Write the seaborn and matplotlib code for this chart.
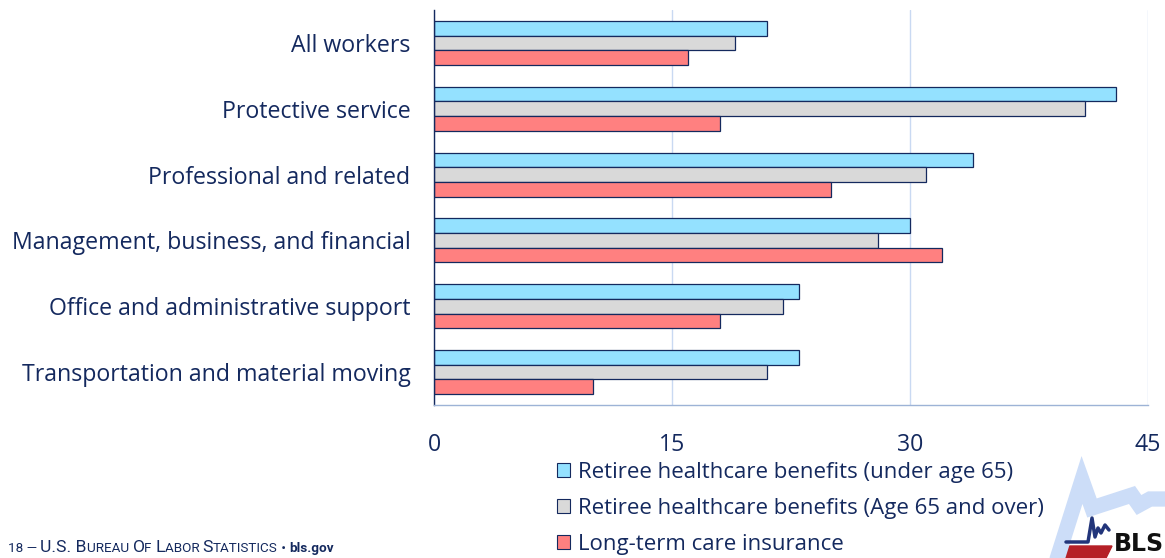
import numpy as np
import pandas as pd
import matplotlib
matplotlib.use("Agg")
import matplotlib.pyplot as plt
import seaborn as sns

# ---- data ----
occupations = [
    "All workers",
    "Protective service",
    "Professional and related",
    "Management, business, and financial",
    "Office and administrative support",
    "Transportation and material moving",
]
under_65 = [21, 43, 34, 30, 23, 23]
age_65_over = [19, 41, 31, 28, 22, 21]
long_term_care = [16, 18, 25, 32, 18, 10]

series_names = [
    "Retiree healthcare benefits (under age 65)",
    "Retiree healthcare benefits (Age 65 and over)",
    "Long-term care insurance",
]
x_ticks = [0, 15, 30, 45]

NAVY = "#14295E"
palette = ["#94E1FF", "#D9D9D9", "#FF8080"]

df = pd.DataFrame({
    "occupation": occupations * 3,
    "series": np.repeat(series_names, len(occupations)),
    "value": under_65 + age_65_over + long_term_care,
})

sns.set_style("white")
plt.rcParams["font.family"] = ["Open Sans", "DejaVu Sans"]

fig = plt.figure(figsize=(11.65, 5.58), dpi=100)
ax = fig.add_axes([434 / 1165, 1 - 405 / 558, (1148 - 434) / 1165, (405 - 10) / 558])

sns.barplot(data=df, y="occupation", x="value", hue="series", order=occupations,
            hue_order=series_names, palette=palette, orient="h", width=0.67, gap=0,
            edgecolor=NAVY, linewidth=0.9, saturation=1, legend=False, ax=ax)

ax.set_xlim(0, 45)
ax.set_ylim(5.5, -0.5)
ax.set_xticks(x_ticks)
ax.set_xticklabels([str(t) for t in x_ticks])
ax.xaxis.grid(True, color="#C9D9F2", linewidth=1)
ax.set_axisbelow(True)
ax.set_xlabel("")
ax.set_ylabel("")
for s in ["top", "right"]:
    ax.spines[s].set_visible(False)
ax.spines["left"].set_color(NAVY)
ax.spines["left"].set_linewidth(1)
ax.spines["bottom"].set_color("#9DB3D6")
ax.spines["bottom"].set_linewidth(1)
ax.tick_params(axis="both", length=0, colors=NAVY, labelsize=16.7)
ax.tick_params(axis="x", pad=20)
ax.tick_params(axis="y", pad=17)

handles = [plt.Rectangle((0, 0), 1, 1, facecolor=c, edgecolor=NAVY, linewidth=0.8) for c in palette]
leg = fig.legend(handles, series_names, loc="upper left",
                 bbox_to_anchor=(557 / 1165, 1 - 462 / 558), frameon=False,
                 fontsize=16, labelspacing=0.68, handlelength=0.6, handleheight=0.6,
                 handletextpad=0.35, borderpad=0, borderaxespad=0)
for t in leg.get_texts():
    t.set_color(NAVY)

# ---- footer, in small caps ----
pieces = [("18 — ", 9.7, "normal"), ("U.S. B", 12.6, "normal"), ("UREAU ", 9.7, "normal"),
          ("O", 12.6, "normal"), ("F ", 9.7, "normal"), ("L", 12.6, "normal"),
          ("ABOR ", 9.7, "normal"), ("S", 12.6, "normal"), ("TATISTICS", 9.7, "normal"),
          (" • ", 9.7, "normal"), ("bls.gov", 9.7, "bold")]
fig.canvas.draw()
renderer = fig.canvas.get_renderer()
x_px = 8
for txt, size, weight in pieces:
    t = fig.text(x_px / 1165, 1 - 552 / 558, txt, fontsize=size, color=NAVY,
                 fontweight=weight, ha="left", va="baseline",
                 family=["Roboto", "DejaVu Sans"])
    x_px += t.get_window_extent(renderer).width

# ---- BLS logo fragment, bottom right ----
zig_x = [1052, 1082, 1092, 1132, 1139, 1150, 1170]
zig_y = [575, 480, 508, 495, 505, 499, 499]
fig.add_artist(plt.Line2D([x / 1165 for x in zig_x], [1 - y / 558 for y in zig_y],
                          color="#CCDDF8", linewidth=11, solid_joinstyle="miter"))
sq_x = [1066, 1088, 1092, 1095, 1098, 1101, 1105, 1109]
sq_y = [542, 542, 518, 537, 528, 533, 525, 530]
fig.add_artist(plt.Line2D([x / 1165 for x in sq_x], [1 - y / 558 for y in sq_y],
                          color="#22357A", linewidth=2.5))
fig.add_artist(plt.Polygon([(1058 / 1165, 1 - 546 / 558), (1112 / 1165, 1 - 546 / 558),
                            (1106 / 1165, 0), (1066 / 1165, 0)],
                           closed=True, color="#B52027", transform=fig.transFigure))
fig.text(1114 / 1165, 2 / 558, "BLS", fontsize=17, fontweight="bold", color="#111111",
         ha="left", va="bottom", family=["DejaVu Sans"])

fig.savefig("out.png", dpi=100)
